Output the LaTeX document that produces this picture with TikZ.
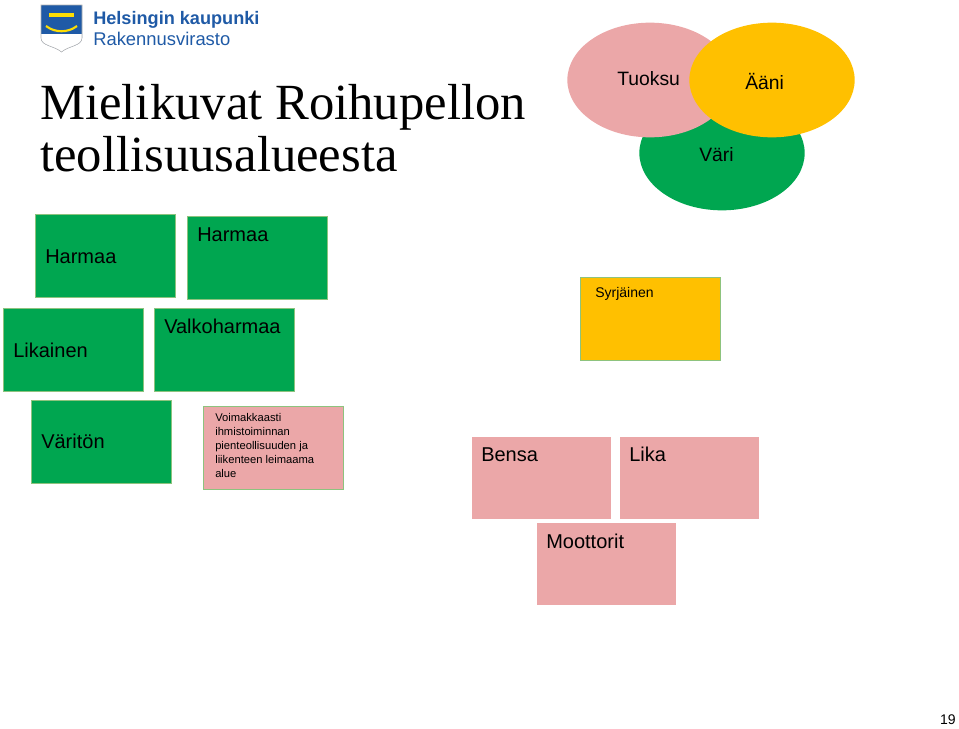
\documentclass[tikz,border=0pt]{standalone}
\usepackage{fontspec}
\setmainfont{Liberation Sans}
\newfontfamily\titlefont{Liberation Serif}
\usetikzlibrary{positioning, shapes.geometric}
\definecolor{boxgreen}{HTML}{00A650}
\definecolor{boxpink}{HTML}{EBA7A8}
\definecolor{boxyellow}{HTML}{FFC000}
\definecolor{edgegreen}{HTML}{8DC37E}
\definecolor{logoblue}{HTML}{1F5AA6}
\begin{document}
\begin{tikzpicture}[
    x=0.75pt, y=-0.75pt,
    tile/.style={
        rectangle, draw=edgegreen, line width=0.8pt, anchor=north west,
        minimum width=105pt, minimum height=62pt, inner sep=0pt
    },
    word/.style={anchor=base west, font=\fontsize{15}{17}\selectfont, inner sep=0pt},
    small/.style={anchor=north west, font=\fontsize{8.4}{10.6}\selectfont, align=left, inner sep=0pt},
    blob/.style={ellipse, minimum width=124pt, minimum height=86pt, inner sep=0pt},
]
\useasboundingbox (0,0) rectangle (959,728);

% Logo
\fill[logoblue] (41,5) -- (82,5) -- (82,38) .. controls (82,46) and (68,46) .. (61.5,52)
    .. controls (55,46) and (41,46) .. (41,38) -- cycle;
\fill[white] (41,34) -- (82,34) -- (82,38) .. controls (82,46) and (68,46) .. (61.5,52)
    .. controls (55,46) and (41,46) .. (41,38) -- cycle;
\draw[gray!60, line width=0.4pt] (41,5) -- (82,5) -- (82,38) .. controls (82,46) and (68,46) .. (61.5,52)
    .. controls (55,46) and (41,46) .. (41,38) -- cycle;
\fill[yellow!80!orange] (49,13) rectangle (74,17);
\draw[yellow!80!orange, line width=1.6pt] (46,26) .. controls (55,33) and (68,33) .. (77,26);
\node[anchor=base west, inner sep=0pt, text=logoblue, font=\fontsize{13.6}{15}\selectfont\bfseries] (city) at (93,24) {Helsingin kaupunki};
\node[anchor=base west, inner sep=0pt, text=logoblue, font=\fontsize{13.8}{15}\selectfont] (office) at (93,45) {Rakennusvirasto};

% Title
\node[anchor=base west, inner sep=0pt, font=\titlefont\fontsize{38}{42}\selectfont] (title1) at (40,119) {Mielikuvat Roihupellon};
\node[anchor=base west, inner sep=0pt, font=\titlefont\fontsize{38}{42}\selectfont] (title2) at (40,171) {teollisuusalueesta};

% Circles
\node[blob, fill=boxgreen] (vari) at (722,153) {};
\node[blob, fill=boxpink] (tuoksu) at (650,80) {};
\node[blob, fill=boxyellow] (aani) at (772,80) {};
\node[word, font=\fontsize{14.5}{16}\selectfont] (tuoksut) at (617,85) {Tuoksu};
\node[word, font=\fontsize{14.5}{16}\selectfont] (varit) at (699,161) {Väri};
\node[word, font=\fontsize{14.5}{16}\selectfont] (aanit) at (745,89) {Ääni};

% Green tiles
\node[tile, fill=boxgreen] (h1) at (35,214) {};
\node[word] (h1t) at (45,263) {Harmaa};
\node[tile, fill=boxgreen] (h2) at (187,216) {};
\node[word] (h2t) at (197,241) {Harmaa};
\node[tile, fill=boxgreen] (lik) at (3,308) {};
\node[word] (likt) at (13,357) {Likainen};
\node[tile, fill=boxgreen] (valk) at (154,308) {};
\node[word] (valkt) at (164,333) {Valkoharmaa};
\node[tile, fill=boxgreen] (vto) at (31,400) {};
\node[word] (vtot) at (41,448) {Väritön};
\node[tile, fill=boxpink] (voim) at (203,406) {};
\node[small] (voimt) at (215,413) {Voimakkaasti\\ihmistoiminnan\\pienteollisuuden ja\\liikenteen leimaama\\alue};

% Syrjainen
\node[tile, fill=boxyellow] (syr) at (580,277) {};
\node[word, font=\fontsize{10.5}{12}\selectfont] (syrt) at (595,297) {Syrjäinen};

% Pink tiles
\node[tile, fill=boxpink, draw=white] (bensa) at (471,436) {};
\node[word] (bensat) at (481,461) {Bensa};
\node[tile, fill=boxpink, draw=white] (lika) at (619,436) {};
\node[word] (likat) at (629,461) {Lika};
\node[tile, fill=boxpink, draw=white] (moot) at (536,522) {};
\node[word] (moott) at (546,548) {Moottorit};

% Page number
\node[anchor=base east, inner sep=0pt, font=\fontsize{10.5}{12}\selectfont] (page) at (956,724) {19};
\end{tikzpicture}
\end{document}
